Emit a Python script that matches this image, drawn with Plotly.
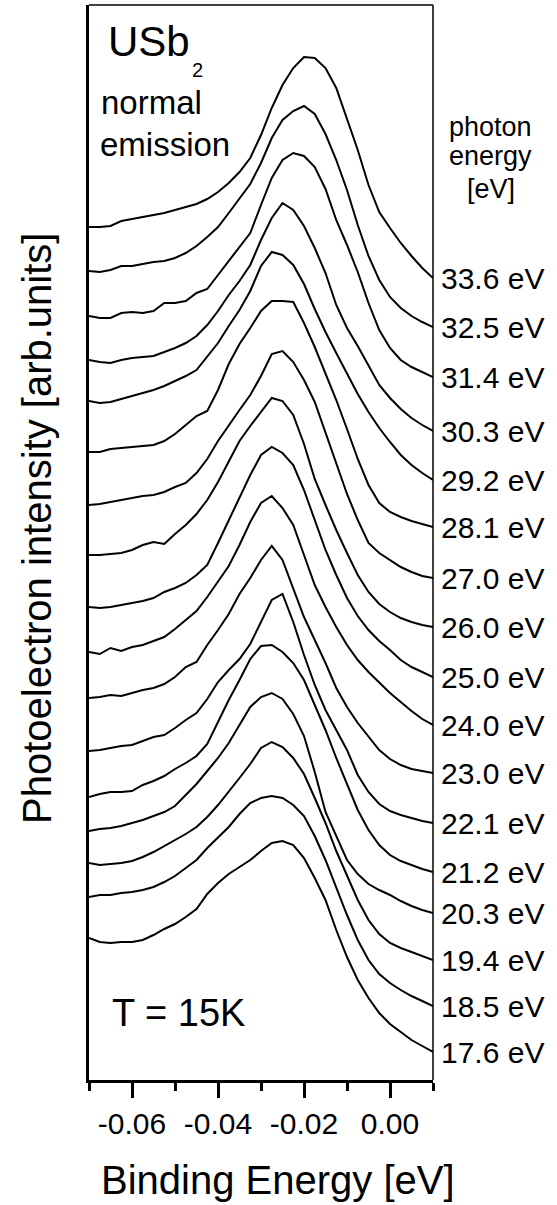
import plotly.graph_objects as go

# Binding energy grid (eV)
energy = [round(-0.07 + 0.0025 * i, 4) for i in range(33)]

photon_energy = [33.6, 32.5, 31.4, 30.3, 29.2, 28.1, 27.0, 26.0, 25.0,
                 24.0, 23.0, 22.1, 21.2, 20.3, 19.4, 18.5, 17.6]

# Stacked photoelectron intensity spectra (arb. units, offsets included)
s336 = [853,853,854,859,861,863,865,867,870,873,876,881,888,897,908,922,945,972,995,1012,1023,1022,1012,992,960,930,895,868,852,837,824,812,802]
s325 = [809,808,810,814,814,816,818,819,822,827,834,843,853,867,881,896,917,942,960,969,974,966,946,920,890,855,824,800,783,772,764,758,753]
s314 = [764,762,762,767,768,767,769,777,777,779,787,791,805,819,833,847,875,902,920,927,924,913,891,860,835,808,777,750,732,720,713,708,703]
s303 = [720,718,717,720,722,723,724,728,732,737,744,755,769,785,799,815,840,862,877,870,854,832,807,775,752,734,714,695,682,671,662,655,649]
s292 = [679,677,678,681,684,687,690,694,699,704,710,723,737,754,770,789,814,828,825,815,796,771,748,727,707,686,668,652,638,625,615,607,600]
s281 = [628,628,631,632,633,634,635,639,646,655,664,669,690,716,736,752,769,779,779,778,757,733,707,680,651,621,595,577,568,563,559,556,553]
s270 = [575,576,578,580,582,584,585,588,593,597,607,621,639,655,670,685,704,726,729,718,700,678,648,617,586,560,537,527,520,513,508,504,502]
s260 = [525,525,526,527,530,535,538,536,546,555,566,580,598,619,639,654,668,682,679,665,636,601,575,550,527,505,488,476,468,462,458,455,453]
s250 = [473,472,473,475,477,479,482,488,492,497,505,515,537,560,582,605,625,633,627,615,590,560,530,505,482,464,450,439,430,420,413,408,403]
s240 = [428,426,432,429,433,435,439,443,451,460,469,483,498,514,535,558,577,584,572,555,525,495,473,453,435,420,408,397,387,378,369,361,355]
s230 = [382,383,385,384,387,390,392,396,403,413,418,435,450,466,486,502,520,534,520,492,463,440,417,392,373,357,343,330,321,315,311,309,307]
s221 = [329,330,332,334,335,339,343,345,352,360,367,381,398,410,421,436,458,480,486,458,425,395,370,350,330,305,288,276,269,265,262,259,257]
s212 = [283,286,288,288,289,295,299,304,311,317,324,336,358,380,400,421,434,435,428,417,400,375,350,322,295,270,250,235,225,219,215,211,208]
s203 = [249,251,252,254,257,260,264,268,274,285,296,309,322,337,355,373,383,387,381,366,344,308,268,244,220,206,196,190,185,179,174,170,167]
s194 = [217,215,216,217,219,223,228,234,240,246,253,263,275,288,302,316,332,338,333,322,306,282,257,229,204,180,160,146,137,132,128,124,120]
s185 = [183,185,185,187,188,190,193,198,204,212,220,232,242,253,266,277,282,284,282,275,264,244,220,192,165,140,120,106,97,90,84,79,74]
s176 = [142,138,137,138,138,140,145,151,156,163,171,186,197,206,213,220,229,237,239,235,222,202,180,150,123,100,82,67,56,48,40,34,28]

spectra = [s336, s325, s314, s303, s292, s281, s270, s260, s250,
           s240, s230, s221, s212, s203, s194, s185, s176]

x_tick_vals = [-0.06, -0.04, -0.02, 0.00]
x_tick_text = ["-0.06", "-0.04", "-0.02", "0.00"]
x_minor_vals = [-0.07, -0.05, -0.03, -0.01, 0.01]

FONT = "Liberation Sans, Arial, sans-serif"

fig = go.Figure()
annotations = []
for pe, spec in zip(photon_energy, spectra):
    fig.add_trace(go.Scatter(x=energy, y=spec, mode="lines",
                             line=dict(color="black", width=2),
                             showlegend=False, hoverinfo="skip"))
    annotations.append(dict(x=1, xref="paper", y=spec[-1], yref="y",
                            text=f"{pe:.1f} eV", showarrow=False,
                            xanchor="left", yanchor="middle", xshift=6,
                            font=dict(family=FONT, size=30, color="black")))

def txt(text, x, y, size, xanchor="left", angle=0):
    return dict(x=x, y=y, xref="paper", yref="paper", text=text,
                showarrow=False, xanchor=xanchor, yanchor="middle",
                textangle=angle,
                font=dict(family=FONT, size=size, color="black"))

annotations += [
    txt("USb", 0.050, 0.966, 42),
    txt("2", 0.293, 0.940, 20),
    txt("normal", 0.028, 0.909, 33),
    txt("emission", 0.026, 0.870, 33),
    txt("T = 15K", 0.061, 0.0625, 38),
    txt("photon", 1.1686, 0.8865, 27, "center"),
    txt("energy", 1.1686, 0.8595, 27, "center"),
    txt("[eV]", 1.1686, 0.8288, 27, "center"),
    txt("Binding Energy [eV]", 0.548, -0.093, 40, "center"),
    txt("Photoelectron intensity [arb.units]", -0.151, 0.5126, 40, "center", -90),
]

fig.update_layout(
    width=557, height=1205,
    margin=dict(l=89, r=124, t=5, b=125),
    paper_bgcolor="white", plot_bgcolor="white",
    annotations=annotations,
    xaxis=dict(range=[-0.07, 0.01], showgrid=False, zeroline=False,
               showline=True, linecolor="black", linewidth=3,
               ticks="outside", ticklen=15, tickwidth=3, tickcolor="black",
               tickmode="array", tickvals=x_tick_vals, ticktext=x_tick_text,
               tickfont=dict(family=FONT, size=30, color="black"),
               minor=dict(tickmode="array", tickvals=x_minor_vals,
                          ticks="outside", ticklen=8, tickwidth=3,
                          tickcolor="black", showgrid=False)),
    yaxis=dict(range=[0, 1075], showgrid=False, zeroline=False,
               showline=True, linecolor="black", linewidth=3,
               showticklabels=False, ticks=""),
    shapes=[
        dict(type="line", xref="paper", yref="paper", x0=0, x1=1, y0=1, y1=1,
             line=dict(color="black", width=1.5)),
        dict(type="line", xref="paper", yref="paper", x0=1, x1=1, y0=0, y1=1,
             line=dict(color="black", width=1.5)),
    ],
)

fig.write_html("out.html")
